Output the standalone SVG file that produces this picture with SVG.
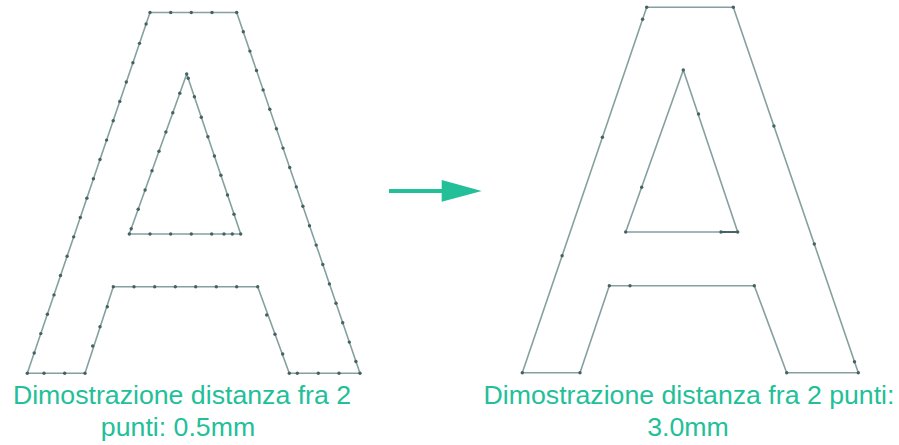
<svg xmlns="http://www.w3.org/2000/svg" width="899" height="445" viewBox="0 0 899 445">
<style>
.ln{fill:none;stroke:#86a0a0;stroke-width:1.6;stroke-linejoin:round}
.dk{fill:none;stroke:#3f5b5c;stroke-width:1.8}
.d{fill:#456162}
.t{font-family:"Liberation Sans",Arial,sans-serif;font-size:26.7px;fill:#22bf99;text-anchor:middle}
</style>
<rect width="899" height="445" fill="#fff"/>
<g id="letter-dense">
<polygon class="ln" points="150,12.5 236.7,12.5 360,373.3 289.3,373.3 257.7,286.7 113.3,286.7 85,373.3 27.3,373.3"/>
<polygon class="ln" points="186.7,74 240.7,234 129.3,234"/>
<g class="d">
<circle cx="150" cy="12.5" r="1.7"/><circle cx="170.7" cy="12.5" r="1.7"/><circle cx="191.3" cy="12.5" r="1.7"/><circle cx="212" cy="12.5" r="1.7"/><circle cx="236.7" cy="12.5" r="1.7"/>
<circle cx="146.1" cy="24" r="1.7"/><circle cx="139.5" cy="43.35" r="1.7"/><circle cx="132.9" cy="62.7" r="1.7"/><circle cx="126.3" cy="82.05" r="1.7"/><circle cx="119.8" cy="101.4" r="1.7"/><circle cx="113.2" cy="120.75" r="1.7"/><circle cx="106.6" cy="140.1" r="1.7"/><circle cx="100" cy="159.45" r="1.7"/><circle cx="93.4" cy="178.8" r="1.7"/><circle cx="86.9" cy="198.15" r="1.7"/><circle cx="80.3" cy="217.5" r="1.7"/><circle cx="73.7" cy="236.85" r="1.7"/><circle cx="67.1" cy="256.2" r="1.7"/><circle cx="60.5" cy="275.55" r="1.7"/><circle cx="54" cy="294.9" r="1.7"/><circle cx="47.4" cy="314.25" r="1.7"/><circle cx="40.8" cy="333.6" r="1.7"/><circle cx="34.2" cy="352.95" r="1.7"/>
<circle cx="243.3" cy="31.7" r="1.7"/><circle cx="249.9" cy="51.1" r="1.7"/><circle cx="256.5" cy="70.5" r="1.7"/><circle cx="263.1" cy="89.9" r="1.7"/><circle cx="269.8" cy="109.3" r="1.7"/><circle cx="276.4" cy="128.7" r="1.7"/><circle cx="283" cy="148.1" r="1.7"/><circle cx="289.7" cy="167.5" r="1.7"/><circle cx="296.3" cy="186.9" r="1.7"/><circle cx="302.9" cy="206.3" r="1.7"/><circle cx="309.5" cy="225.7" r="1.7"/><circle cx="316.2" cy="245.1" r="1.7"/><circle cx="322.8" cy="264.5" r="1.7"/><circle cx="329.4" cy="283.9" r="1.7"/><circle cx="336" cy="303.3" r="1.7"/><circle cx="342.7" cy="322.7" r="1.7"/><circle cx="349.3" cy="342.1" r="1.7"/><circle cx="355.9" cy="361.5" r="1.7"/>
<circle cx="360" cy="373.3" r="1.7"/><circle cx="339" cy="373.3" r="1.7"/><circle cx="318.3" cy="373.3" r="1.7"/><circle cx="297.3" cy="373.3" r="1.7"/><circle cx="289.3" cy="373.3" r="1.7"/>
<circle cx="282.7" cy="354" r="1.7"/><circle cx="275" cy="334.3" r="1.7"/><circle cx="266.7" cy="315" r="1.7"/>
<circle cx="257.7" cy="286.7" r="1.7"/><circle cx="236.7" cy="286.7" r="1.7"/><circle cx="216.3" cy="286.7" r="1.7"/><circle cx="195.7" cy="286.7" r="1.7"/><circle cx="175.3" cy="286.7" r="1.7"/><circle cx="154.7" cy="286.7" r="1.7"/><circle cx="134" cy="286.7" r="1.7"/><circle cx="113.3" cy="286.7" r="1.7"/>
<circle cx="107.3" cy="306.7" r="1.7"/><circle cx="100" cy="326.7" r="1.7"/><circle cx="92.7" cy="346" r="1.7"/>
<circle cx="85" cy="373.3" r="1.7"/><circle cx="64.7" cy="373.3" r="1.7"/><circle cx="44" cy="373.3" r="1.7"/><circle cx="27.3" cy="373.3" r="1.7"/>
<circle cx="186.7" cy="74" r="1.7"/><circle cx="188.2" cy="78.3" r="1.7"/><circle cx="194.4" cy="96.7" r="1.7"/><circle cx="201.3" cy="117.3" r="1.7"/><circle cx="207.9" cy="136.7" r="1.7"/><circle cx="214.4" cy="156" r="1.7"/><circle cx="220.9" cy="175.3" r="1.7"/><circle cx="227.5" cy="195" r="1.7"/><circle cx="234" cy="214.3" r="1.7"/>
<circle cx="240.7" cy="234" r="1.7"/><circle cx="232.3" cy="234" r="1.7"/><circle cx="224" cy="234" r="1.7"/><circle cx="211.7" cy="234" r="1.7"/><circle cx="191.3" cy="234" r="1.7"/><circle cx="170.7" cy="234" r="1.7"/><circle cx="150" cy="234" r="1.7"/><circle cx="129.3" cy="234" r="1.7"/>
<circle cx="131.2" cy="228.7" r="1.7"/><circle cx="138.2" cy="209.3" r="1.7"/><circle cx="145.1" cy="190" r="1.7"/><circle cx="152" cy="170.7" r="1.7"/><circle cx="159" cy="151.3" r="1.7"/><circle cx="165.9" cy="132" r="1.7"/><circle cx="172.8" cy="112.7" r="1.7"/><circle cx="179.8" cy="93.3" r="1.7"/>
</g>
</g>
<g id="arrow">
<line x1="389" y1="191" x2="443" y2="191" stroke="#22bf99" stroke-width="4"/>
<polygon points="441.7,180 481.7,191 441.7,201.7" fill="#22bf99"/>
</g>
<g id="letter-sparse">
<polygon class="ln" points="646.7,7.3 733.3,7.3 858.3,372.7 786.7,372.7 754.3,285.7 609.3,285.7 580,372.7 522.3,372.7"/>
<polygon class="ln" points="683.3,70 737.7,232 625.7,232"/>
<line class="dk" x1="721" y1="232" x2="737.7" y2="232"/>
<g class="d">
<circle cx="646.7" cy="7.3" r="1.7"/><circle cx="733.3" cy="7.3" r="1.7"/><circle cx="858.3" cy="372.7" r="1.7"/><circle cx="786.7" cy="372.7" r="1.7"/><circle cx="754.3" cy="285.7" r="1.7"/><circle cx="609.3" cy="285.7" r="1.7"/><circle cx="580" cy="372.7" r="1.7"/><circle cx="522.3" cy="372.7" r="1.7"/>
<circle cx="642.6" cy="19.3" r="1.7"/><circle cx="602.4" cy="137.3" r="1.7"/><circle cx="562.1" cy="255.7" r="1.7"/>
<circle cx="773.9" cy="126" r="1.7"/><circle cx="814.3" cy="244" r="1.7"/><circle cx="854.5" cy="361.7" r="1.7"/>
<circle cx="630" cy="285.7" r="1.7"/>
<circle cx="683.3" cy="70" r="1.7"/><circle cx="737.7" cy="232" r="1.7"/><circle cx="625.7" cy="232" r="1.7"/>
<circle cx="698.5" cy="114" r="1.7"/><circle cx="641.7" cy="187.3" r="1.7"/><circle cx="721" cy="232" r="1.7"/>
</g>
</g>
<g id="label-dense">
<text class="t" x="182" y="404">Dimostrazione distanza fra 2</text>
<text class="t" x="178" y="436">punti: 0.5mm</text>
</g>
<g id="label-sparse">
<text class="t" x="689" y="404">Dimostrazione distanza fra 2 punti:</text>
<text class="t" x="688" y="436">3.0mm</text>
</g>
</svg>
